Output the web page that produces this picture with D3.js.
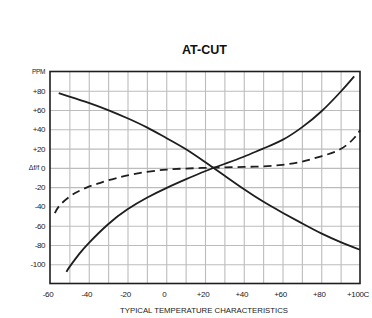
<!DOCTYPE html>
<html>
<head>
<meta charset="utf-8">
<script src="https://cdn.jsdelivr.net/npm/d3@7"></script>
<style>
  body { margin: 0; background: #fff; }
  svg { display: block; font-family: "Liberation Sans", Arial, sans-serif; }
  .grid line { stroke: #bcbcbc; stroke-width: 1.1; }
  .grid path { display: none; }
  .lbl path, .lbl line { display: none; }
  .lbl text { font-size: 8px; fill: #222; letter-spacing: -0.4px; }
  .curve { fill: none; stroke: #1e1e1e; stroke-width: 1.8; }
</style>
</head>
<body>
<svg id="chart" width="372" height="318"></svg>
<script>
// tick values and labels
var tempTicks = [-60, -40, -20, 0, 20, 40, 60, 80, 100];
var tempLabels = ["-60", "-40", "-20", "0", "+20", "+40", "+60", "+80", "+100C"];
var ppmTicks = [-100, -80, -60, -40, -20, 0, 20, 40, 60, 80, 100];
var ppmLabels = ["-100", "-80", "-60", "-40", "-20", "0", "+20", "+40", "+60", "+80", "PPM"];

// curves (temperature C, delta f/f in ppm)
var risingTemp = [-51.5, -50, -45, -40, -30, -20, -10, 0, 10, 20, 30, 40, 50, 60, 70, 80, 90, 97];
var risingPpm  = [-108, -103, -89.5, -78, -58.5, -43, -31, -21, -12, -3.5, 4, 11.5, 20, 29, 42, 58.5, 79, 95];

var fallingTemp = [-55.5, -50, -40, -30, -20, -10, 0, 10, 20, 25, 30, 40, 50, 60, 70, 80, 90, 100];
var fallingPpm  = [77.5, 74, 67.5, 60, 51.5, 42, 31, 19.5, 6, -1, -8, -22, -35, -46.5, -57.5, -68, -77, -85];

var dashedTemp = [-57.5, -55, -50, -45, -40, -35, -30, -25, -20, -10, 0, 10, 20, 30, 40, 50, 60, 70, 80, 90, 97, 100];
var dashedPpm  = [-47, -39, -30, -24, -19.5, -16.2, -13, -10.2, -7.8, -4.2, -1.8, -0.7, 0, 0.5, 1, 1.5, 3.2, 6.5, 12, 19.5, 31, 39];

var svg = d3.select("#chart");

var x = d3.scaleLinear().domain([-60, 100]).range([50, 360]);
var y = d3.scaleLinear().domain([-120, 100]).range([283.5, 71.5]);

// grid: every 10 C, every 20 ppm
svg.append("g")
    .attr("class", "grid")
    .attr("transform", "translate(0," + y(-120) + ")")
    .call(d3.axisBottom(x).tickValues(d3.range(-50, 100, 10))
      .tickSize(-(y(-120) - y(100))).tickFormat(""));

svg.append("g")
    .attr("class", "grid")
    .attr("transform", "translate(" + x(-60) + ",0)")
    .call(d3.axisLeft(y).tickValues(d3.range(-100, 100, 20))
      .tickSize(-(x(100) - x(-60))).tickFormat(""));

// tick labels
var xl = svg.append("g")
    .attr("class", "lbl")
    .attr("transform", "translate(0," + y(-120) + ")")
    .call(d3.axisBottom(x).tickValues(tempTicks).tickSize(0).tickPadding(8)
      .tickFormat(function(d, i) { return tempLabels[i]; }));
xl.selectAll("text").attr("dx", "-2.5");

var yl = svg.append("g")
    .attr("class", "lbl")
    .attr("transform", "translate(45,0)")
    .call(d3.axisLeft(y).tickValues(ppmTicks).tickSize(0).tickPadding(0)
      .tickFormat(function(d, i) { return ppmLabels[i]; }));
yl.selectAll("text")
    .filter(function(d) { return d == 100; })
    .style("font-size", "6.5px");

// frame
svg.append("rect")
    .attr("x", x(-60)).attr("y", y(100))
    .attr("width", x(100) - x(-60)).attr("height", y(-120) - y(100))
    .attr("fill", "none").attr("stroke", "#1e1e1e").attr("stroke-width", 1.6);

var line = d3.line()
    .x(function(d) { return x(d[0]); })
    .y(function(d) { return y(d[1]); })
    .curve(d3.curveNatural);

function pts(t, v) { return t.map(function(d, i) { return [d, v[i]]; }); }

svg.append("path").attr("class", "curve").attr("d", line(pts(risingTemp, risingPpm)));
svg.append("path").attr("class", "curve").attr("d", line(pts(fallingTemp, fallingPpm)));
svg.append("path").attr("class", "curve")
    .attr("stroke-dasharray", "8,5")
    .attr("d", line(pts(dashedTemp, dashedPpm)));

// titles
svg.append("text")
    .attr("x", 204.5).attr("y", 54)
    .attr("text-anchor", "middle")
    .attr("font-weight", "bold").attr("font-size", 12.5)
    .attr("textLength", 45).attr("lengthAdjust", "spacingAndGlyphs")
    .attr("fill", "#111")
    .text("AT-CUT");

svg.append("text")
    .attr("x", 204).attr("y", 313)
    .attr("text-anchor", "middle")
    .attr("font-size", 7.5)
    .attr("textLength", 168).attr("lengthAdjust", "spacingAndGlyphs")
    .attr("fill", "#222")
    .text("TYPICAL TEMPERATURE CHARACTERISTICS");

svg.append("text")
    .attr("x", 34).attr("y", y(0) + 2.5)
    .attr("text-anchor", "middle")
    .attr("font-size", 7)
    .attr("fill", "#222")
    .text("Δf/f");
</script>
</body>
</html>
